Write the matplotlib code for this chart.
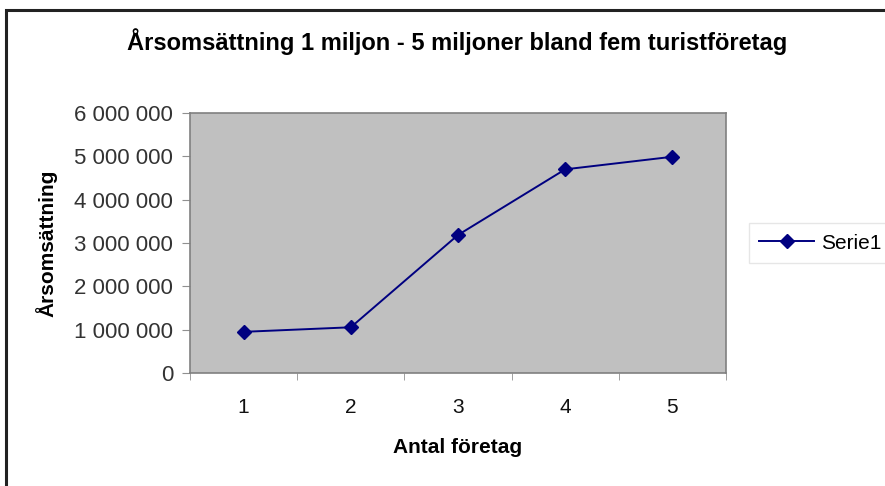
import matplotlib
matplotlib.use("Agg")
import matplotlib.pyplot as plt
from matplotlib.patches import Rectangle
from matplotlib.ticker import FuncFormatter, FixedLocator

# Data
antal_foretag = [1, 2, 3, 4, 5]
arsomsattning = [950000, 1055000, 3185000, 4700000, 4990000]
serie_namn = "Serie1"
y_ticks = [0, 1000000, 2000000, 3000000, 4000000, 5000000, 6000000]

plt.rcParams["font.family"] = ["Liberation Sans", "DejaVu Sans"]

W, H = 885, 486
fig = plt.figure(figsize=(W / 100, H / 100), dpi=100)

# outer chart frame (runs off the right and bottom of the picture)
frame = Rectangle((6 / W, -0.1), 2.0, 1 - 10 / H + 0.1, transform=fig.transFigure,
                  fill=False, edgecolor="#222222", linewidth=2.2)
fig.patches.append(frame)

ax = fig.add_axes([190 / W, (H - 373) / H, 536 / W, 260 / H])
ax.set_facecolor("#c0c0c0")

ax.plot(antal_foretag, arsomsattning, color="#000080", linewidth=1.4,
        marker="D", markersize=7, label=serie_namn)

ax.set_xlim(0.5, 5.5)
ax.set_ylim(0, 6000000)

ax.set_xticks(antal_foretag)
ax.xaxis.set_minor_locator(FixedLocator([0.5, 1.5, 2.5, 3.5, 4.5, 5.5]))
ax.tick_params(axis="x", which="major", length=0, pad=18, labelsize=15, labelcolor="#111111")
ax.tick_params(axis="x", which="minor", length=5, color="#909090", direction="out")

ax.set_yticks(y_ticks)
ax.yaxis.set_major_formatter(FuncFormatter(lambda v, p: f"{int(v):,}".replace(",", " ")))
ax.tick_params(axis="y", length=6, color="#909090", direction="out", pad=6,
               labelsize=16, labelcolor="#333333")

for s in ax.spines.values():
    s.set_color("#808080")
    s.set_linewidth(1.2)

ax.set_xlabel("Antal företag", fontsize=15, fontweight="bold", labelpad=15)
ax.set_ylabel("Årsomsättning", fontsize=15, fontweight="bold", labelpad=12)

fig.text(457 / W, 1 - 42 / H, "Årsomsättning 1 miljon - 5 miljoner bland fem turistföretag",
         ha="center", va="center", fontsize=17, fontweight="bold")

leg = ax.legend(loc="center left", bbox_to_anchor=(749 / W, 1 - 243 / H),
                bbox_transform=fig.transFigure, frameon=True, fancybox=False,
                fontsize=15, handlelength=2.6, handletextpad=0.35,
                borderpad=0.5, borderaxespad=0)
leg.get_frame().set_edgecolor("#e0e0e0")
leg.get_frame().set_linewidth(1.0)

fig.savefig("out.png", dpi=100)
